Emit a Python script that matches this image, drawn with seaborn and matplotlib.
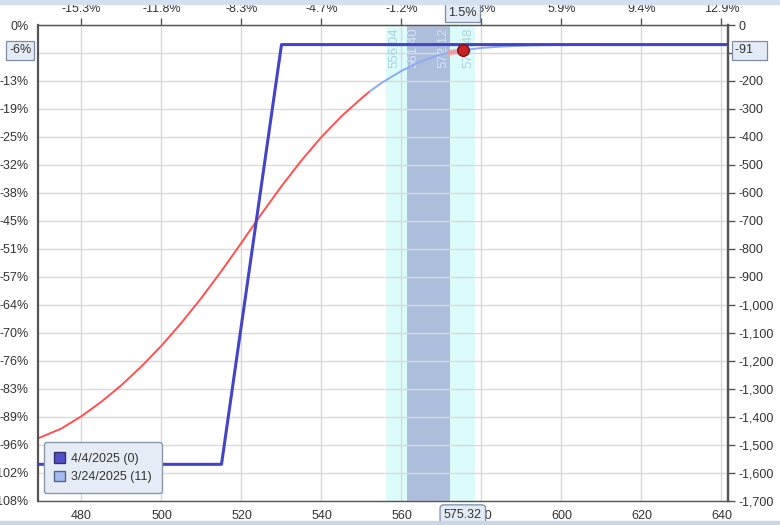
import pandas as pd
import seaborn as sns
import matplotlib.pyplot as plt
from matplotlib.patches import Patch

# T+0 curve (3/24/2025, 11 days)
t0_price = [469, 475, 480, 485, 490, 495, 500, 505, 510, 515, 520, 525, 530, 535,
            540, 545, 550, 552, 555, 560, 565, 570, 572, 575, 580, 585, 590, 595,
            600, 610, 625, 645]
t0_pnl = [-1478, -1442, -1398, -1346, -1287, -1220, -1146, -1064, -975, -879, -778,
          -675, -576, -484, -400, -326, -262, -238, -207, -164, -129, -105, -99, -91,
          -82, -77, -74, -72, -71, -70, -70, -70]
t0_split = 552

# expiration curve (4/4/2025)
exp_price = [460, 515, 530, 650]
exp_pnl = [-1570, -1570, -70, -70]

# current price and recent move
spot = 575.32
spot_pnl = -91
move_price = [572.12, 575.32]
move_pnl = [-99, -91]

# standard deviation bands
outer_band = [556.04, 578.48]
inner_band = [561.40, 572.12]

x_ticks = [480, 500, 520, 540, 560, 580, 600, 620, 640]
top_labels = ['-15.3%', '-11.8%', '-8.3%', '-4.7%', '-1.2%', '2.3%', '5.9%', '9.4%', '12.9%']
y_ticks = [0, -100, -200, -300, -400, -500, -600, -700, -800, -900, -1000, -1100,
           -1200, -1300, -1400, -1500, -1600, -1700]
# the -100 labels sit under the current-value boxes
right_labels = ['0', '', '-200', '-300', '-400', '-500', '-600', '-700', '-800',
                '-900', '-1,000', '-1,100', '-1,200', '-1,300', '-1,400', '-1,500',
                '-1,600', '-1,700']
left_labels = ['0%', '', '-13%', '-19%', '-25%', '-32%', '-38%', '-45%', '-51%',
               '-57%', '-64%', '-70%', '-76%', '-83%', '-89%', '-96%', '-102%', '-108%']

sns.set_style('white')
plt.rcParams['font.family'] = ['Liberation Sans', 'DejaVu Sans']

dark_blue = '#4444c6'
light_blue = '#8fa9ee'
red = '#ff4f4f'
axis_col = '#555555'
txt_col = '#333333'

t0 = pd.DataFrame({'price': t0_price, 'pnl': t0_pnl})
exp = pd.DataFrame({'price': exp_price, 'pnl': exp_pnl})

fig = plt.figure(figsize=(7.8, 5.25), dpi=100)
ax = fig.add_axes([38.3 / 780, 1 - 500.7 / 525, (728.3 - 38.3) / 780, (500.7 - 25) / 525])

ax.axvspan(*outer_band, color='#dcfcfc', lw=0, zorder=0)
ax.axvspan(*inner_band, color='#adbedd', lw=0, zorder=0.1)

for xv in x_ticks:
    ax.axvline(xv, color='#d9d9d9', lw=1, zorder=0.5)
for yv in y_ticks:
    ax.axhline(yv, color='#d9d9d9', lw=1, zorder=0.5)

sns.lineplot(data=exp, x='price', y='pnl', ax=ax, color=dark_blue, lw=2.2, zorder=3)
sns.lineplot(data=t0[t0.price <= t0_split], x='price', y='pnl', ax=ax, color=red, lw=1.4, zorder=2)
sns.lineplot(data=t0[t0.price >= t0_split], x='price', y='pnl', ax=ax, color=light_blue, lw=1.4, zorder=2)
sns.lineplot(x=move_price, y=move_pnl, ax=ax, color='#f59a9a', lw=4, alpha=0.8, zorder=2.5)
ax.scatter([spot], [spot_pnl], s=70, color='#c42424', edgecolor='#801010', lw=1, zorder=4)

# band labels
band_lbl = [(outer_band[0] + 2.3, '556.04', '#add0de'), (inner_band[0] + 1.5, '561.40', '#d8e2f2'),
            (inner_band[1] - 1.7, '572.12', '#d8e2f2'), (outer_band[1] - 1.7, '578.48', '#add0de')]
for xv, s, c in band_lbl:
    ax.text(xv, -10, s, rotation=90, ha='center', va='top', fontsize=9.5, color=c, zorder=1)

ax.set_xlim(469.2, 641.7)
ax.set_ylim(-1700, 0)
ax.set_xlabel('')
ax.set_ylabel('')
ax.set_xticks(x_ticks)
ax.set_yticks(y_ticks, left_labels)

top = ax.secondary_xaxis('top')
top.set_xticks(x_ticks, top_labels)
right = ax.secondary_yaxis('right')
right.set_yticks(y_ticks, right_labels)

for a in (ax, top, right):
    a.tick_params(length=5, width=1, color=axis_col, labelcolor=txt_col, labelsize=9, pad=2,
                  direction='out')
for side in ('left', 'right'):
    ax.spines[side].set_color(axis_col)
    ax.spines[side].set_linewidth(1.6)
for side in ('top', 'bottom'):
    ax.spines[side].set_color(axis_col)
    ax.spines[side].set_linewidth(1.0)
for sp in top.spines.values():
    sp.set_color(axis_col)
for sp in right.spines.values():
    sp.set_color(axis_col)
    sp.set_linewidth(1.6)

handles = [Patch(facecolor='#5050c8', edgecolor='#333366', label='4/4/2025 (0)'),
           Patch(facecolor='#a6bcf0', edgecolor='#556688', label='3/24/2025 (11)')]
leg = ax.legend(handles=handles, loc='lower left', bbox_to_anchor=(0.008, 0.016),
                borderaxespad=0, fontsize=9, frameon=True, fancybox=True,
                facecolor='#e6ecf5', edgecolor='#8a98aa', framealpha=1,
                handlelength=0.9, handleheight=0.9, handletextpad=0.5,
                borderpad=0.8, labelspacing=0.45)
leg.set_zorder(6)
for t in leg.get_texts():
    t.set_color(txt_col)

box = dict(boxstyle='square,pad=0.25', fc='#e3ebf6', ec='#7d8ca3', lw=0.9)
ax.annotate('1.5%', xy=(spot, 1), xycoords=('data', 'axes fraction'), xytext=(0, 9),
            textcoords='offset points', ha='center', va='center', fontsize=9, color=txt_col,
            bbox=box, zorder=10, annotation_clip=False)
ax.annotate('575.32', xy=(spot, 0), xycoords=('data', 'axes fraction'), xytext=(0, -10),
            textcoords='offset points', ha='center', va='center', fontsize=9, color=txt_col,
            bbox=dict(boxstyle='round,pad=0.3', fc='#e3ebf6', ec='#7d8ca3', lw=0.9),
            zorder=10, annotation_clip=False)
ax.annotate('-6%', xy=(0, spot_pnl), xycoords=('axes fraction', 'data'), xytext=(-5, 0),
            textcoords='offset points', ha='right', va='center', fontsize=9, color=txt_col,
            bbox=dict(boxstyle='square,pad=0.25', fc='#e3ebf6', ec='#7d8ca3', lw=0.9),
            zorder=10, annotation_clip=False)
ax.annotate('-91   ', xy=(1, spot_pnl), xycoords=('axes fraction', 'data'), xytext=(5, 0),
            textcoords='offset points', ha='left', va='center', fontsize=9, color=txt_col,
            bbox=box, zorder=10, annotation_clip=False)

# window frame strips
fig.patches.append(plt.Rectangle((0, 1 - 4 / 525), 1, 4 / 525, transform=fig.transFigure,
                                 color='#d3e0ef', zorder=0))
fig.patches.append(plt.Rectangle((0, 0), 1, 4 / 525, transform=fig.transFigure,
                                 color='#c9d6e6', zorder=0))

fig.savefig('out.png', dpi=100)
